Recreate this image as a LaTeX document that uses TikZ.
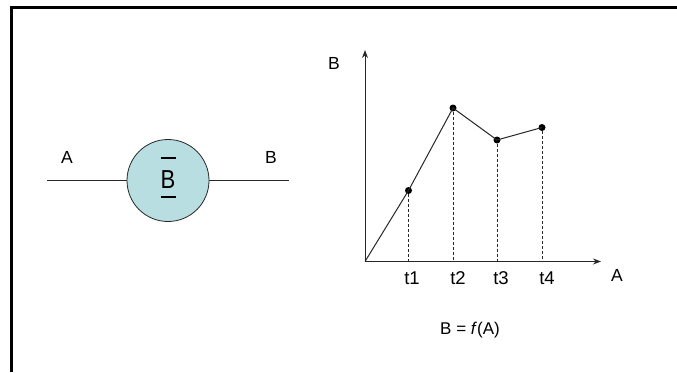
\documentclass[tikz,border=0pt]{standalone}
\usepackage{fontspec}
\setmainfont{Liberation Sans}
\usepackage{tikz}
\usetikzlibrary{arrows.meta,positioning,calc}
\definecolor{blkfill}{RGB}{184,222,226}
\definecolor{inkgray}{RGB}{40,40,40}
\tikzset{
  lbl/.style   ={font=\fontsize{17.5}{20}\selectfont, inner sep=0pt},
  tick/.style  ={font=\fontsize{18.5}{21}\selectfont, inner sep=0pt},
  blk/.style   ={draw=inkgray, circle, fill=blkfill, minimum size=82pt, inner sep=0pt, line width=0.8pt},
  wire/.style  ={draw=inkgray, line width=1pt},
  axis/.style  ={draw=inkgray, line width=1pt, -{Stealth[length=8pt, width=6pt]}},
  dot/.style   ={circle, fill=black, minimum size=7pt, inner sep=0pt},
  drop/.style  ={draw=inkgray, dash pattern=on 3pt off 2pt, line width=0.7pt},
  bar/.style   ={line width=2.8pt, black}
}
\begin{document}
\begin{tikzpicture}[x=1pt, y=-1pt]
  \useasboundingbox (0,0) rectangle (677,372);
  \fill[white] (0,0) rectangle (677,372);
  % frame (top and left only)
  \draw[line width=3pt] (11.5,372) -- (11.5,7.5) -- (677,7.5);
  % block with input A and output B
  \node[blk, font=\fontsize{26}{28}\selectfont] (blk) at (168,180.5) {\raisebox{1.5pt}{\scalebox{0.85}[1]{B}}};
  \draw[bar] ([xshift=-7.5pt, yshift=22.5pt]blk.center) -- ++(15,0);
  \draw[bar] ([xshift=-7.5pt, yshift=-16.5pt]blk.center) -- ++(15,0);
  \coordinate (inA)  at (47,180.5);
  \coordinate (outB) at (289,180.5);
  \node[lbl] (lA) at (67,157)  {A};
  \node[lbl] (lB) at (271,157) {B};
  \draw[wire] (inA) -- (blk.west);
  \draw[wire] (blk.east) -- (outB);
  % graph B = f(A)
  \coordinate (O)  at (365,261.5);
  \coordinate (yt) at (365,50);
  \coordinate (xt) at (601,261.5);
  \draw[axis] (O) -- (yt);
  \draw[axis] (O) -- (xt);
  \node[lbl] (yB) at (334,63)  {B};
  \node[lbl] (xA) at (617,275) {A};
  \node[dot] (p1) at (408.5,190.5) {};
  \node[dot] (p2) at (453,108)   {};
  \node[dot] (p3) at (497,140)   {};
  \node[dot] (p4) at (542,127.5) {};
  \draw[wire] (O) -- (p1.center) -- (p2.center) -- (p3.center) -- (p4.center);
  \foreach \i in {1,...,4}{
    \draw[drop] (p\i) -- (p\i |- O);
  }
  \node[tick] (t1) at (412,278) {t1};
  \node[tick] (t2) at (458,278) {t2};
  \node[tick] (t3) at (501,278) {t3};
  \node[tick] (t4) at (547,278) {t4};
  \node[lbl, font=\fontsize{17}{20}\selectfont] (eq) at (470,330) {B = \textit{f}(A)};
\end{tikzpicture}
\end{document}
